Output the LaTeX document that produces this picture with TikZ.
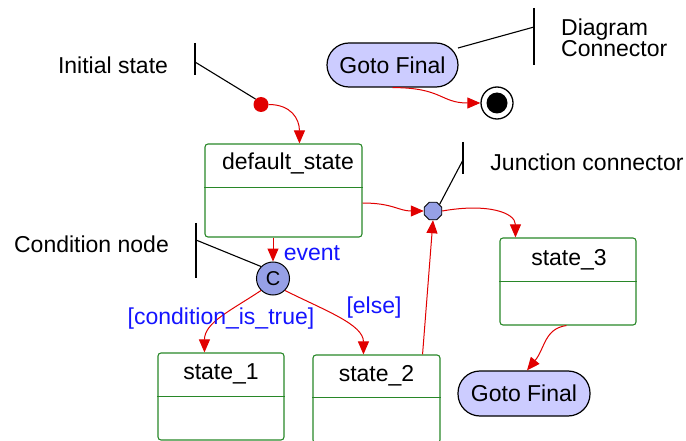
\documentclass[tikz,border=0pt]{standalone}
\usepackage{fontspec}
\setmainfont{Liberation Sans}
\usetikzlibrary{arrows.meta,shapes.geometric,calc}
\definecolor{stgreen}{RGB}{40,135,40}
\definecolor{arrred}{RGB}{225,0,0}
\definecolor{lav}{RGB}{204,204,255}
\definecolor{jlav}{RGB}{150,160,230}
\definecolor{lblue}{RGB}{20,20,255}
\begin{document}
\begin{tikzpicture}[x=1pt,y=-1pt,
  every node/.style={font=\fontsize{23}{21}\selectfont, inner sep=0pt},
  statebox/.style={draw=stgreen, line width=1.1pt, rounded corners=3pt},
  gotobox/.style={draw=black, fill=lav, line width=1.2pt, rounded corners=22pt, minimum width=131pt, minimum height=44pt},
  conn/.style={draw=arrred, line width=1pt, -{Triangle[length=13pt,width=11pt]}},
  annot/.style={draw=black, line width=1.1pt},
  lbl/.style={text=lblue}]
\useasboundingbox (0,0) rectangle (686,441);

% state boxes
\node[statebox, minimum width=157pt, minimum height=93pt] (ds) at (283.5,190.5) {};
\draw[stgreen, line width=1.1pt] ($(ds.north west)+(0,44)$) -- ($(ds.north east)+(0,44)$);
\node (dst) at (288,163) {default\_state};

\node[statebox, minimum width=126pt, minimum height=87pt] (s1) at (221,396.5) {};
\draw[stgreen, line width=1.1pt] ($(s1.north west)+(0,44)$) -- ($(s1.north east)+(0,44)$);
\node (s1t) at (221,374) {state\_1};

\node[statebox, minimum width=127pt, minimum height=88pt] (s2) at (376.5,399) {};
\draw[stgreen, line width=1.1pt] ($(s2.north west)+(0,43)$) -- ($(s2.north east)+(0,43)$);
\node (s2t) at (376.5,376) {state\_2};

\node[statebox, minimum width=136pt, minimum height=87pt] (s3) at (568,281.5) {};
\draw[stgreen, line width=1.1pt] ($(s3.north west)+(0,44)$) -- ($(s3.north east)+(0,44)$);
\node (s3t) at (569,260) {state\_3};

% goto boxes
\node[gotobox] (g1) at (392.5,65) {Goto Final};
\node[gotobox, minimum width=132pt, minimum height=45pt] (g2) at (524,393.5) {Goto Final};

% initial & final
\node[circle, fill=arrred, minimum size=15pt] (init) at (261,104.5) {};
\node[circle, draw=black, fill=white, line width=1.3pt, minimum size=32pt] (fin) at (497,103) {};
\node[circle, fill=black, minimum size=21pt] (finin) at (497,103) {};

% junction and condition
\node[regular polygon, regular polygon sides=8, draw=black, fill=jlav, line width=0.9pt, minimum size=19pt] (junc) at (433,211) {};
\node[circle, draw=black, fill=jlav, line width=1pt, minimum size=33pt, font=\fontsize{20}{20}\selectfont] (c) at (273,278.5) {C};

% connectors
\path[conn] (init.east) .. controls +(22,0) and +(0,-25) .. ($(ds.north west)+(95,0)$);
\path[conn] ($(ds.east)+(0,12.5)$) .. controls +(30,0) and +(-25,0) .. (junc.west);
\path[conn] (junc.east) .. controls +(45,-8) and +(0,-25) .. ($(s3.north west)+(16,0)$);
\path[conn] ($(s2.north east)+(-18,0)$) -- (junc.south);
\path[conn] (c |- ds.south) -- (c.north);
\path[conn] (c.south west) .. controls +(-30,20) and +(0,-30) .. ($(s1.north west)+(47,0)$);
\path[conn] (c.south east) .. controls +(40,20) and +(0,-30) .. ($(s2.north west)+(51,0)$);
\path[conn] ($(s3.south west)+(67,0)$) .. controls +(-22,3) and +(18,-22) .. ($(g2.north)+(3,0)$);
\path[conn] (g1.south) .. controls +(50,0) and +(-40,0) .. (fin.west);

% connector labels
\node[lbl] (ev) at (312,253) {event};
\node[lbl] (ct) at (221,319) {[condition\_is\_true]};
\node[lbl] (el) at (374,308) {[else]};

% annotations
\node (tinit) at (113,65) {Initial state};
\coordinate (ia) at (195,43); \coordinate (ib) at (195,75); \coordinate (ic) at (195,62);
\draw[annot] (ia) -- (ib); \draw[annot] (ic) -- (init.north west);

\node (tcond) at (91.5,244) {Condition node};
\coordinate (ca) at (196,223); \coordinate (cb) at (196,278); \coordinate (cc) at (196,240);
\draw[annot] (ca) -- (cb); \draw[annot] (cc) -- (c.north west);

\node (tjunc) at (587,162) {Junction connector};
\coordinate (ja) at (463,142); \coordinate (jb) at (463,174); \coordinate (jc) at (463,160);
\draw[annot] (ja) -- (jb); \draw[annot] (jc) -- (junc.north east);

\node[align=left, anchor=west] (tdiag) at (561,38) {Diagram\\Connector};
\coordinate (da) at (534,8); \coordinate (db) at (534,65); \coordinate (dc) at (534,27);
\draw[annot] (da) -- (db); \draw[annot] (dc) -- (458,48);
\end{tikzpicture}
\end{document}
